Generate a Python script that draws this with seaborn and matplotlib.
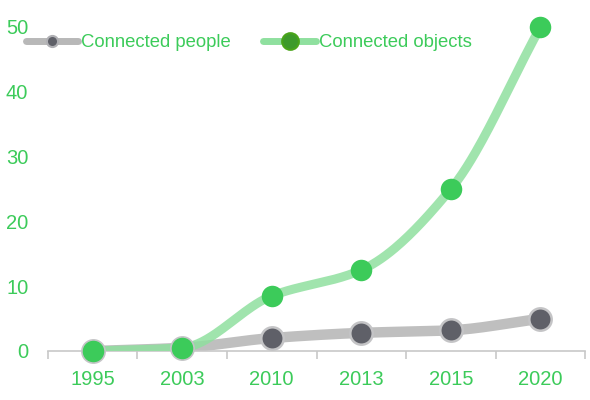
import numpy as np
import pandas as pd
import seaborn as sns
import matplotlib.pyplot as plt
from matplotlib.lines import Line2D

# Data (billions)
years = ["1995", "2003", "2010", "2013", "2015", "2020"]
people = [0.0, 0.5, 2.0, 2.8, 3.2, 5.0]
objects = [0.0, 0.5, 8.5, 12.5, 25.0, 50.0]

sns.set_theme(style="white")
plt.rcParams['font.family'] = ['Liberation Sans', 'DejaVu Sans']

GREEN = "#3ccb5a"
GREEN_LINE = "#8fe09f"
GRAY_LINE = "#b8b8b8"
GRAY_MARK = "#5f6068"


def smooth(y, n=40):
    # monotone cubic (Fritsch-Carlson) through the points, x = category index
    x = np.arange(len(y), dtype=float)
    y = np.asarray(y, dtype=float)
    d = np.diff(y)
    m = np.zeros_like(y)
    m[0], m[-1] = d[0], d[-1]
    for i in range(1, len(y) - 1):
        m[i] = 0 if d[i - 1] * d[i] <= 0 else 2 / (1 / d[i - 1] + 1 / d[i])
    xs, ys = [], []
    for i in range(len(y) - 1):
        t = np.linspace(0, 1, n, endpoint=False)
        h00 = 2 * t**3 - 3 * t**2 + 1
        h10 = t**3 - 2 * t**2 + t
        h01 = -2 * t**3 + 3 * t**2
        h11 = t**3 - t**2
        xs.append(x[i] + t)
        ys.append(h00 * y[i] + h10 * m[i] + h01 * y[i + 1] + h11 * m[i + 1])
    xs.append([x[-1]])
    ys.append([y[-1]])
    return np.concatenate(xs), np.concatenate(ys)


fig = plt.figure(figsize=(5.9, 4.0), dpi=100)
ax = fig.add_axes([0.081, 0.1225, 0.911, 0.81])

idx = np.arange(len(years))
df = pd.DataFrame({"pos": idx, "people": people, "objects": objects})

px, py = smooth(people)
ox, oy = smooth(objects)
sns.lineplot(x=px, y=py, ax=ax, color=GRAY_LINE, lw=7.5, alpha=0.9,
             solid_capstyle="round", zorder=2)
sns.lineplot(x=ox, y=oy, ax=ax, color=GREEN_LINE, lw=6.5, alpha=0.85,
             solid_capstyle="round", zorder=3)
sns.scatterplot(data=df, x="pos", y="people", ax=ax, s=260, color=GRAY_MARK,
                edgecolor="#c4c4c6", linewidth=1.8, zorder=4, clip_on=False)
sns.scatterplot(data=df, x="pos", y="objects", ax=ax, s=240, color=GREEN,
                edgecolor=GREEN, linewidth=0, zorder=5, clip_on=False)

ax.set_xlim(-0.5, len(years) - 0.5)
ax.set_ylim(0, 50)
ax.set_xticks(idx)
ax.set_xticklabels(years)
ax.set_xticks(np.arange(-0.5, len(years)), minor=True)
ax.set_yticks([0, 10, 20, 30, 40, 50])
ax.set_xlabel("")
ax.set_ylabel("")
ax.tick_params(axis="x", which="major", length=0, pad=13.5, labelsize=14.5,
               labelcolor=GREEN)
ax.tick_params(axis="x", which="minor", length=6, width=1.2, color="#c8c8c8",
               direction="out", bottom=True)
ax.tick_params(axis="y", length=0, pad=14, labelsize=14.5, labelcolor=GREEN)
for s in ["top", "right", "left"]:
    ax.spines[s].set_visible(False)
ax.spines["bottom"].set_color("#c8c8c8")
ax.spines["bottom"].set_linewidth(1.2)

handles = [
    Line2D([], [], color=GRAY_LINE, lw=5, marker="o", markersize=8,
           markerfacecolor=GRAY_MARK, markeredgecolor="#b0b0b4",
           markeredgewidth=1.5, solid_capstyle="round"),
    Line2D([], [], color=GREEN_LINE, lw=5, marker="o", markersize=12,
           markerfacecolor="#3d9a2a", markeredgecolor="#4aa41a",
           markeredgewidth=1.5, solid_capstyle="round"),
]
leg = fig.legend(handles, ["Connected people", "Connected objects"],
                 loc="center left", bbox_to_anchor=(0.028, 0.893), ncol=2,
                 frameon=False, fontsize=13.3, handlelength=2.85,
                 handletextpad=0.15, columnspacing=1.75, borderpad=0)
for t in leg.get_texts():
    t.set_color(GREEN)

fig.savefig("out.png", dpi=100)
